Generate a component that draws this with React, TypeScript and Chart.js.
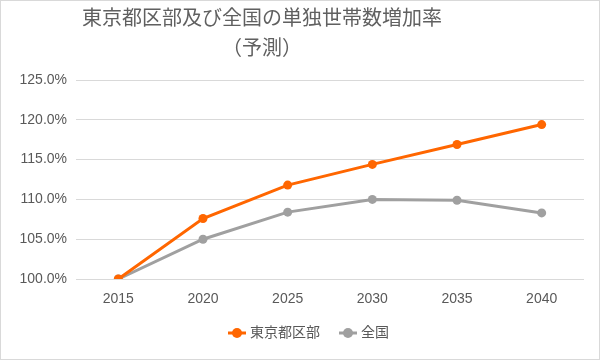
import React, { useEffect, useRef } from "react";
import { Chart, registerables } from "chart.js";

Chart.register(...registerables);

const titleLines = ["東京都区部及び全国の単独世帯数増加率", "（予測）"];
const years = ["2015", "2020", "2025", "2030", "2035", "2040"];
const tokyoLabel = "東京都区部";
const nationLabel = "全国";
const tokyoValues = [100.0, 107.6, 111.8, 114.4, 116.9, 119.4];
const nationValues = [100.0, 105.0, 108.4, 110.0, 109.9, 108.3];
const yMin = 100;
const yMax = 125;
const yStep = 5;

const ORANGE = "#FF6600";
const GRAY = "#A0A0A0";
const TEXT = "#595959";
const FONT = "'Liberation Sans', 'Noto Sans CJK JP', sans-serif";

function makeMarker(color: string): HTMLCanvasElement {
  const c = document.createElement("canvas");
  c.width = 18;
  c.height = 12;
  const ctx = c.getContext("2d")!;
  ctx.strokeStyle = color;
  ctx.lineWidth = 3;
  ctx.beginPath();
  ctx.moveTo(0, 6);
  ctx.lineTo(18, 6);
  ctx.stroke();
  ctx.fillStyle = color;
  ctx.beginPath();
  ctx.arc(9, 6, 5, 0, Math.PI * 2);
  ctx.fill();
  return c;
}

export default function App() {
  const ref = useRef<HTMLCanvasElement | null>(null);

  useEffect(() => {
    document.body.style.margin = "0";
    if (!ref.current) return;
    const markers = [makeMarker(ORANGE), makeMarker(GRAY)];

    const framePlugin = {
      id: "frame",
      afterLayout(chart: any) {
        if (chart.legend) {
          chart.legend.left = 36;
        }
      },
      beforeDraw(chart: any) {
        const ctx = chart.ctx;
        ctx.save();
        ctx.fillStyle = "#ffffff";
        ctx.fillRect(0, 0, chart.width, chart.height);
        ctx.restore();
      },
      afterDraw(chart: any) {
        const ctx = chart.ctx;
        ctx.save();
        ctx.strokeStyle = "#d9d9d9";
        ctx.lineWidth = 1;
        ctx.strokeRect(0.5, 0.5, chart.width - 1, chart.height - 1);
        ctx.fillStyle = "#606060";
        ctx.textAlign = "center";
        ctx.textBaseline = "middle";
        ctx.font = "20px 'Noto Sans CJK JP', sans-serif";
        ctx.fillText(titleLines[0], 262, 17);
        ctx.fillText(titleLines[1], 262, 47);
        ctx.restore();
      },
    };

    const chart = new Chart(ref.current, {
      type: "line",
      data: {
        labels: years,
        datasets: [
          {
            label: tokyoLabel,
            data: tokyoValues,
            borderColor: ORANGE,
            backgroundColor: ORANGE,
            borderWidth: 3,
            pointRadius: 4.5,
            pointBorderWidth: 0,
            pointBackgroundColor: ORANGE,
            tension: 0,
          },
          {
            label: nationLabel,
            data: nationValues,
            borderColor: GRAY,
            backgroundColor: GRAY,
            borderWidth: 3,
            pointRadius: 4.5,
            pointBorderWidth: 0,
            pointBackgroundColor: GRAY,
            tension: 0,
          },
        ],
      },
      options: {
        animation: false,
        responsive: false,
        layout: { padding: { top: 80, left: 10, right: 16, bottom: 10 } },
        plugins: {
          title: { display: false },
          tooltip: { enabled: false },
          legend: {
            position: "bottom",
            labels: {
              usePointStyle: true,
              pointStyleWidth: 12,
              boxHeight: 12,
              padding: 22,
              color: TEXT,
              font: { size: 14, family: FONT },
              generateLabels: (c: any) => {
                const items = Chart.defaults.plugins.legend.labels.generateLabels(c);
                return items.map((it: any, i: number) => ({ ...it, pointStyle: markers[i] }));
              },
            },
          },
        },
        scales: {
          x: {
            offset: true,
            grid: { display: false, drawTicks: false },
            border: { display: false },
            ticks: { color: TEXT, font: { size: 14, family: FONT }, padding: 12 },
            afterFit: (s: any) => {
              s.height = 25;
            },
          },
          y: {
            min: yMin,
            max: yMax,
            grid: { color: "#d9d9d9", lineWidth: 1, drawTicks: false },
            border: { display: false },
            ticks: {
              stepSize: yStep,
              color: TEXT,
              font: { size: 14, family: FONT },
              padding: 9,
              callback: (v: any) => Number(v).toFixed(1) + "%",
            },
            afterFit: (s: any) => {
              s.width = 66;
            },
          },
        },
      },
      plugins: [framePlugin],
    });
    return () => chart.destroy();
  }, []);

  return (
    <div style={{ width: 600, height: 360 }}>
      <canvas ref={ref} width={600} height={360} style={{ display: "block" }} />
    </div>
  );
}
